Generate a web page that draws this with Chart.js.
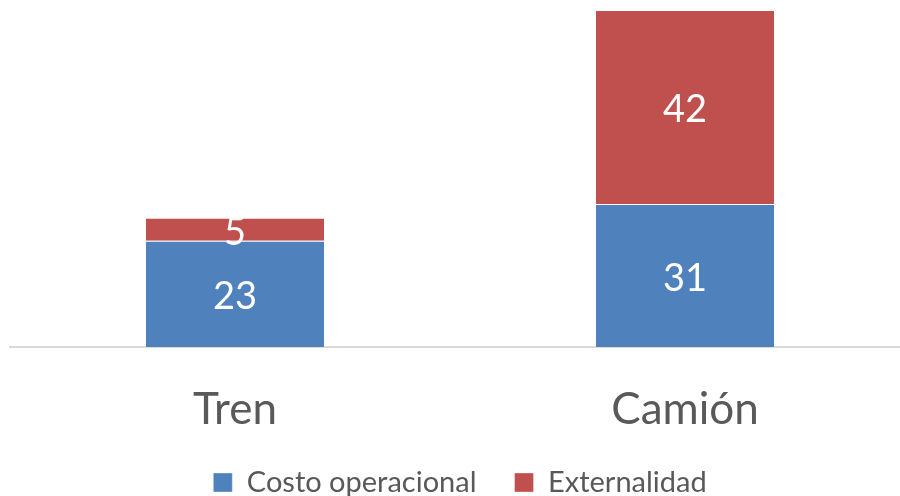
<!DOCTYPE html>
<html>
<head>
<meta charset="utf-8">
<script src="https://cdn.jsdelivr.net/npm/chart.js@4.4.1/dist/chart.umd.min.js"></script>
<style>
  html, body { margin: 0; padding: 0; background: #fff; overflow: hidden; }
  #wrap { width: 910px; height: 496px; }
</style>
</head>
<body>
<div id="wrap"><canvas id="myChart"></canvas></div>
<script>
const categories = ['Tren', 'Camión'];
const costoOperacional = [23, 31];
const externalidad = [5, 42];
const seriesNames = ['Costo operacional', 'Externalidad'];

const textColor = '#595959';
const fontFamily = 'Lato, "Open Sans", sans-serif';

// white value labels in the middle of each bar segment
const barLabels = {
    id: 'barLabels',
    afterDatasetsDraw(chart) {
        const ctx = chart.ctx;
        ctx.save();
        ctx.fillStyle = '#ffffff';
        ctx.font = '38px ' + fontFamily;
        ctx.textAlign = 'center';
        ctx.textBaseline = 'middle';
        chart.data.datasets.forEach((ds, i) => {
            chart.getDatasetMeta(i).data.forEach((bar, j) => {
                const p = bar.getCenterPoint();
                ctx.fillText(String(ds.data[j]), p.x, p.y + 3);
            });
        });
        ctx.restore();
    }
};

window.addEventListener('load', setup);

function setup() {
    const ctx = document.getElementById('myChart').getContext('2d');
    new Chart(ctx, {
        type: 'bar',
        data: {
            labels: categories,
            datasets: [{
                label: seriesNames[0],
                data: costoOperacional,
                backgroundColor: '#4F81BD',
                borderColor: 'rgba(255,255,255,0.35)',
                borderWidth: 1,
                barPercentage: 0.4,
                categoryPercentage: 1
            }, {
                label: seriesNames[1],
                data: externalidad,
                backgroundColor: '#C0504D',
                borderColor: 'rgba(255,255,255,0.35)',
                borderWidth: 1,
                barPercentage: 0.4,
                categoryPercentage: 1
            }]
        },
        options: {
            responsive: true,
            maintainAspectRatio: false,
            animation: false,
            layout: { padding: { top: 10, left: 10, right: 0, bottom: -11 } },
            scales: {
                x: {
                    stacked: true,
                    grid: { display: false },
                    border: { display: true, color: '#D9D9D9', width: 2 },
                    ticks: {
                        color: textColor,
                        font: { family: fontFamily, size: 44 },
                        padding: 28
                    },
                    afterFit(scale) { scale.height = 83; }
                },
                y: {
                    stacked: true,
                    min: 0,
                    max: 73,
                    display: false
                }
            },
            plugins: {
                legend: {
                    position: 'bottom',
                    labels: {
                        color: textColor,
                        font: { family: fontFamily, size: 29 },
                        boxWidth: 19,
                        boxHeight: 19,
                        padding: 38
                    }
                },
                tooltip: { enabled: false }
            }
        },
        plugins: [barLabels]
    });
}
</script>
</body>
</html>
